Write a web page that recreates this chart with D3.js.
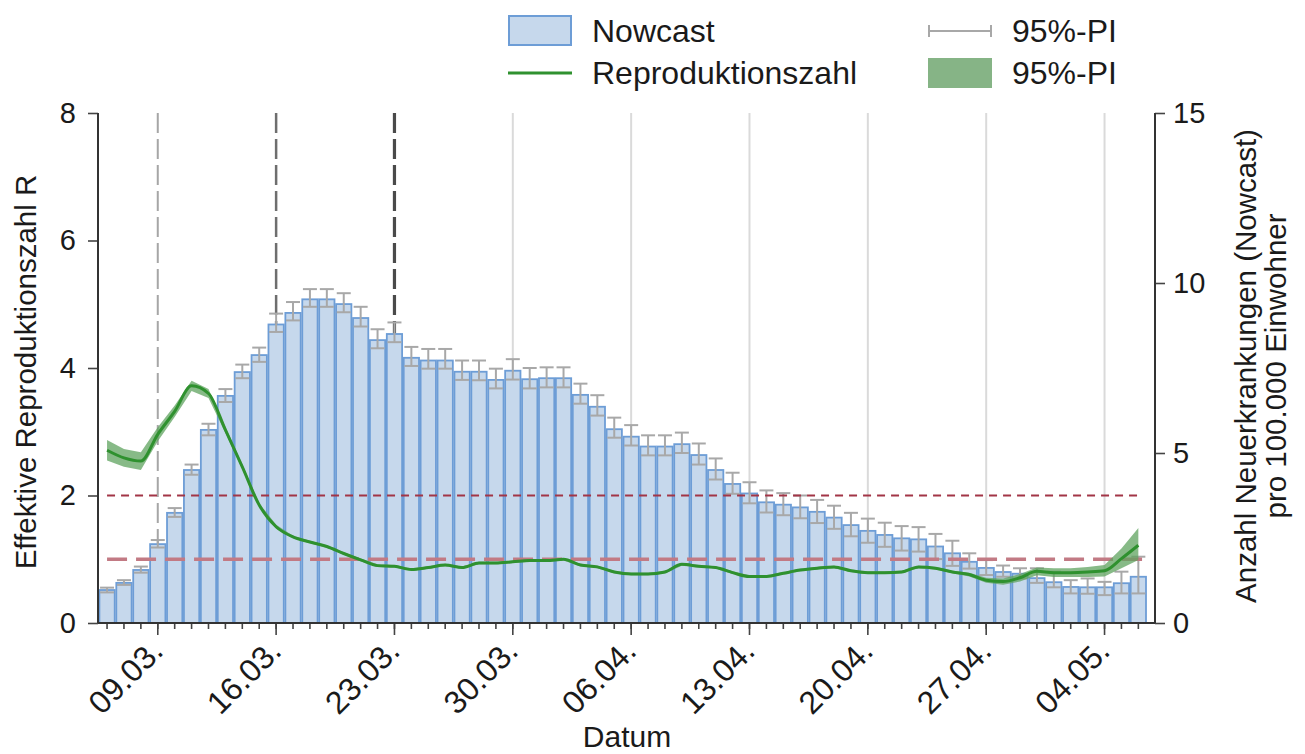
<!DOCTYPE html>
<html>
<head>
<meta charset="utf-8">
<script src="https://cdn.jsdelivr.net/npm/d3@7"></script>
<style>
  body { margin: 0; background: #fff; }
  svg { font-family: "Liberation Sans", Arial, sans-serif; }
</style>
</head>
<body>
<svg id="chart" width="1305" height="754"></svg>
<script>
// Nowcast per 100.000 (right axis), one value per day 06.03. – 06.05.
const nowcast = [0.97,1.18,1.56,2.32,3.24,4.5,5.68,6.68,7.38,7.88,
  8.78,9.12,9.52,9.52,9.38,8.97,8.32,8.5,7.8,7.72,
  7.72,7.39,7.39,7.15,7.42,7.17,7.2,7.2,6.71,6.36,
  5.7,5.48,5.19,5.19,5.26,4.94,4.5,4.09,3.81,3.55,
  3.48,3.4,3.27,3.1,2.88,2.71,2.59,2.49,2.46,2.25,
  2.05,1.8,1.62,1.5,1.45,1.32,1.2,1.06,1.05,1.05,
  1.17,1.36];
const nowcastLow = [0.9,1.12,1.48,2.22,3.12,4.36,5.52,6.5,7.2,7.68,
  8.56,8.9,9.3,9.3,9.14,8.72,8.08,8.26,7.56,7.48,
  7.48,7.15,7.14,6.9,7.16,6.9,6.93,6.93,6.45,6.1,
  5.45,5.22,4.93,4.93,5.0,4.66,4.22,3.8,3.52,3.25,
  3.17,3.08,2.94,2.77,2.55,2.36,2.24,2.13,2.1,1.88,
  1.68,1.6,1.41,1.36,1.31,1.18,1.05,0.87,0.86,0.82,
  0.87,0.87];
const nowcastHigh = [1.04,1.26,1.66,2.44,3.38,4.66,5.86,6.88,7.6,8.1,
  9.1,9.44,9.82,9.82,9.7,9.3,8.64,8.84,8.12,8.06,
  8.06,7.72,7.72,7.48,7.76,7.5,7.52,7.52,7.04,6.7,
  6.04,5.82,5.52,5.52,5.6,5.28,4.84,4.42,4.14,3.9,
  3.82,3.75,3.62,3.45,3.24,3.07,2.95,2.85,2.82,2.62,
  2.42,2.05,1.85,1.69,1.61,1.61,1.51,1.26,1.31,1.21,
  1.51,1.95];

// Reproduktionszahl R (left axis) with 95%-PI
const rValues = [2.71,2.59,2.54,2.96,3.32,3.72,3.6,3.03,2.45,1.85,
  1.51,1.35,1.27,1.2,1.09,0.99,0.9,0.89,0.84,0.87,
  0.91,0.87,0.94,0.94,0.96,0.98,0.98,1.0,0.91,0.88,
  0.8,0.77,0.77,0.8,0.92,0.89,0.87,0.79,0.73,0.73,
  0.78,0.83,0.86,0.88,0.82,0.79,0.79,0.8,0.88,0.86,
  0.8,0.76,0.67,0.65,0.71,0.81,0.79,0.79,0.8,0.82,
  1.01,1.22];
const rLow = [2.55,2.45,2.4,2.85,3.23,3.64,3.53,2.98,2.41,1.82,
  1.48,1.33,1.25,1.18,1.07,0.97,0.88,0.87,0.82,0.85,
  0.89,0.85,0.92,0.92,0.94,0.96,0.96,0.98,0.89,0.86,
  0.78,0.75,0.75,0.78,0.9,0.87,0.85,0.77,0.71,0.71,
  0.76,0.81,0.84,0.86,0.8,0.77,0.77,0.78,0.86,0.84,
  0.78,0.73,0.63,0.6,0.65,0.75,0.72,0.72,0.72,0.73,
  0.86,0.99];
const rHigh = [2.87,2.73,2.68,3.07,3.41,3.8,3.67,3.08,2.49,1.88,
  1.54,1.37,1.29,1.22,1.11,1.01,0.92,0.91,0.86,0.89,
  0.93,0.89,0.96,0.96,0.98,1.0,1.0,1.02,0.93,0.9,
  0.82,0.79,0.79,0.82,0.94,0.91,0.89,0.81,0.75,0.75,
  0.8,0.85,0.88,0.9,0.84,0.81,0.81,0.82,0.9,0.88,
  0.82,0.79,0.71,0.7,0.77,0.87,0.86,0.86,0.88,0.91,
  1.17,1.49];

const dateLabels = ["09.03.", "16.03.", "23.03.", "30.03.", "06.04.", "13.04.", "20.04.", "27.04.", "04.05."];
const eventLabels = ["09.03.", "16.03.", "23.03."];
const gridLabels = ["30.03.", "06.04.", "13.04.", "20.04.", "27.04.", "04.05."];
const leftTicks = [0, 2, 4, 6, 8];
const rightTicks = [0, 5, 10, 15];
const thresholds = [2, 1];

const fmt = d3.timeFormat("%d.%m.");
const days = d3.timeDay.range(new Date(2020, 2, 6), new Date(2020, 4, 7)).map(fmt);

const plotLeft = 98, plotRight = 1155, plotTop = 113, plotBottom = 623;

const x = d3.scaleBand().domain(days).range([98.6, 1146.8]);
const yR = d3.scaleLinear().domain([0, 8]).range([plotBottom, plotTop]);
const yN = d3.scaleLinear().domain([0, 15]).range([plotBottom, plotTop]);
const bw = x.bandwidth();
const cx = (d) => x(d) + bw / 2;

const svg = d3.select("#chart");
const textColor = "#1a1a1a";

// light vertical grid lines
svg.append("g")
  .selectAll("line")
  .data(gridLabels)
  .join("line")
  .attr("x1", cx).attr("x2", cx)
  .attr("y1", plotTop).attr("y2", plotBottom)
  .attr("stroke", "#dadada")
  .attr("stroke-width", 2);

// event lines (dashed)
const eventStyles = [
  { color: "#a6a6a6", width: 2 },
  { color: "#6e6e6e", width: 2.5 },
  { color: "#4a4a4a", width: 3.2 },
];
svg.append("g")
  .selectAll("line")
  .data(eventLabels)
  .join("line")
  .attr("x1", cx).attr("x2", cx)
  .attr("y1", plotTop).attr("y2", plotBottom)
  .attr("stroke", (d, i) => eventStyles[i].color)
  .attr("stroke-width", (d, i) => eventStyles[i].width)
  .attr("stroke-dasharray", "20,6");

// bars
svg.append("g")
  .selectAll("rect")
  .data(nowcast)
  .join("rect")
  .attr("x", (d, i) => x(days[i]) + 0.8)
  .attr("y", (d) => yN(d))
  .attr("width", bw - 1.6)
  .attr("height", (d) => plotBottom - yN(d))
  .attr("fill", "#c6d8ec")
  .attr("stroke", "#6d9dd6")
  .attr("stroke-width", 1.8);

// error bars
const err = svg.append("g").attr("stroke", "#a8a8a8").attr("stroke-width", 2);
nowcast.forEach((d, i) => {
  const c = cx(days[i]);
  err.append("line").attr("x1", c).attr("x2", c)
    .attr("y1", yN(nowcastLow[i])).attr("y2", yN(nowcastHigh[i]));
  [nowcastLow[i], nowcastHigh[i]].forEach((v) => {
    err.append("line").attr("x1", c - 7).attr("x2", c + 7)
      .attr("y1", yN(v)).attr("y2", yN(v));
  });
});

// thresholds R = 2 and R = 1
const thrStyles = [
  { color: "#a23546", width: 2, dash: "8,6" },
  { color: "#c27a84", width: 3.5, dash: "20,9" },
];
svg.append("g")
  .selectAll("line")
  .data(thresholds)
  .join("line")
  .attr("x1", cx(days[0])).attr("x2", cx(days[days.length - 1]) + 4)
  .attr("y1", (d) => yR(d)).attr("y2", (d) => yR(d))
  .attr("stroke", (d, i) => thrStyles[i].color)
  .attr("stroke-width", (d, i) => thrStyles[i].width)
  .attr("stroke-dasharray", (d, i) => thrStyles[i].dash);

// R band + line
const area = d3.area()
  .x((d, i) => cx(days[i]))
  .y0((d, i) => yR(rLow[i]))
  .y1((d, i) => yR(rHigh[i]));
svg.append("path")
  .datum(rValues)
  .attr("d", area)
  .attr("fill", "#5fa35f")
  .attr("opacity", 0.75);

const line = d3.line()
  .x((d, i) => cx(days[i]))
  .y((d) => yR(d))
  .curve(d3.curveMonotoneX);
svg.append("path")
  .datum(rValues)
  .attr("d", line)
  .attr("fill", "none")
  .attr("stroke", "#2f912f")
  .attr("stroke-width", 3)
  .attr("stroke-linejoin", "round");

// axes
function styleAxis(g) {
  g.selectAll(".tick line").attr("stroke", "#444").attr("stroke-width", 1.6);
  g.selectAll(".tick text").attr("fill", textColor).style("font-size", "29px");
  g.select(".domain").remove();
}

svg.append("g")
  .attr("transform", `translate(${plotLeft},0)`)
  .call(d3.axisLeft(yR).tickValues(leftTicks).tickSize(10).tickPadding(12))
  .call(styleAxis);

svg.append("g")
  .attr("transform", `translate(${plotRight},0)`)
  .call(d3.axisRight(yN).tickValues(rightTicks).tickSize(10).tickPadding(8))
  .call(styleAxis);

svg.append("g")
  .attr("transform", `translate(0,${plotBottom})`)
  .call(d3.axisBottom(x).tickValues(days).tickSize(6).tickFormat(""))
  .call(styleAxis);

const xMajor = svg.append("g")
  .attr("transform", `translate(0,${plotBottom})`)
  .call(d3.axisBottom(x).tickValues(dateLabels).tickSize(12))
  .call(styleAxis);
xMajor.selectAll(".tick text")
  .attr("text-anchor", "end")
  .attr("x", 0).attr("y", 0).attr("dy", 0)
  .attr("transform", "translate(7,30) rotate(-45)")
  .style("font-size", "32px");

// axis lines
const axisLines = svg.append("g").attr("stroke", "#333").attr("stroke-width", 2);
axisLines.append("line").attr("x1", plotLeft).attr("x2", plotLeft).attr("y1", plotTop).attr("y2", plotBottom);
axisLines.append("line").attr("x1", plotRight).attr("x2", plotRight).attr("y1", plotTop).attr("y2", plotBottom);
axisLines.append("line").attr("x1", plotLeft).attr("x2", plotRight).attr("y1", plotBottom).attr("y2", plotBottom);

// axis titles
svg.append("text")
  .attr("transform", `translate(36,${(plotTop + plotBottom) / 2 + 4}) rotate(-90)`)
  .attr("text-anchor", "middle")
  .attr("fill", textColor)
  .style("font-size", "29.5px")
  .text("Effektive Reproduktionszahl R");

const rTitle = svg.append("text")
  .attr("transform", `translate(1256,${(plotTop + plotBottom) / 2 - 2}) rotate(-90)`)
  .attr("text-anchor", "middle")
  .attr("fill", textColor)
  .style("font-size", "29.5px");
rTitle.append("tspan").attr("x", 0).attr("dy", 0).text("Anzahl Neuerkrankungen (Nowcast)");
rTitle.append("tspan").attr("x", 0).attr("dy", "1.0em").text("pro 100.000 Einwohner");

svg.append("text")
  .attr("x", 627)
  .attr("y", 747)
  .attr("text-anchor", "middle")
  .attr("fill", textColor)
  .style("font-size", "30px")
  .text("Datum");

// legend
const lg = svg.append("g").style("font-size", "32px").attr("fill", textColor);
lg.append("rect").attr("x", 509).attr("y", 16).attr("width", 62).attr("height", 29)
  .attr("fill", "#c6d8ec").attr("stroke", "#6d9dd6").attr("stroke-width", 2);
lg.append("text").attr("x", 592).attr("y", 42).text("Nowcast");
lg.append("line").attr("x1", 508).attr("x2", 572).attr("y1", 73).attr("y2", 73)
  .attr("stroke", "#2f912f").attr("stroke-width", 3);
lg.append("text").attr("x", 592).attr("y", 84).text("Reproduktionszahl");

const lgErr = lg.append("g").attr("stroke", "#a8a8a8").attr("stroke-width", 2);
lgErr.append("line").attr("x1", 929).attr("x2", 991).attr("y1", 31).attr("y2", 31);
lgErr.append("line").attr("x1", 929).attr("x2", 929).attr("y1", 25).attr("y2", 37);
lgErr.append("line").attr("x1", 991).attr("x2", 991).attr("y1", 25).attr("y2", 37);
lg.append("text").attr("x", 1012).attr("y", 42).text("95%-PI");
lg.append("rect").attr("x", 928).attr("y", 58).attr("width", 64).attr("height", 30)
  .attr("fill", "#86b486");
lg.append("text").attr("x", 1012).attr("y", 84).text("95%-PI");
</script>
</body>
</html>
